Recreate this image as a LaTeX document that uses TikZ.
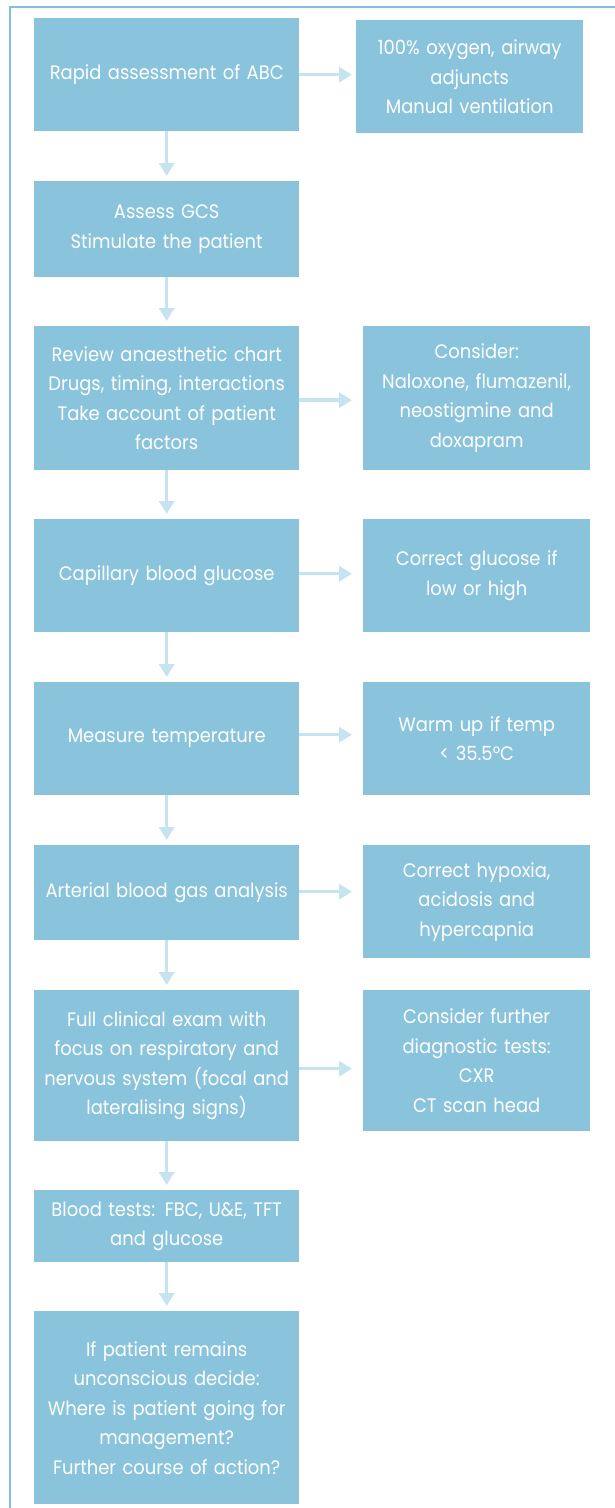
\documentclass[tikz,border=0pt]{standalone}
\usepackage{fontspec}
\setmainfont{Poppins}[FakeStretch=0.92]
\usetikzlibrary{arrows.meta}
\definecolor{boxc}{HTML}{8AC4DC}
\definecolor{arrc}{HTML}{C6E4F0}
\definecolor{framec}{HTML}{7DC1DC}
\tikzset{
  box/.style={fill=boxc, draw=none, anchor=north west, inner sep=0pt, align=center, text=white,
     font=\fontsize{19.5}{29.5}\selectfont},
  lbox/.style={box, minimum width=265pt, text width=262pt},
  rbox/.style={box, minimum width=227pt, text width=224pt},
  arr/.style={draw=arrc, line width=3.5pt, -{Triangle[width=15pt,length=13pt]}},
}
\begin{document}
\begin{tikzpicture}[x=1pt,y=-1pt]
\useasboundingbox (0,0) rectangle (614,1508);
\draw[framec, line width=1.5pt] (10,1510) -- (10,7) -- (616,7);
% left column
\node[lbox, minimum height=113pt] (l1) at (34,18) {Rapid assessment of ABC};
\node[lbox, minimum height=96pt] (l2) at (34,181) {Assess GCS\\Stimulate the patient};
\node[lbox, minimum height=144pt] (l3) at (34,326) {Review anaesthetic chart\\Drugs, timing, interactions\\Take account of patient\\factors};
\node[lbox, minimum height=113pt] (l4) at (34,519) {Capillary blood glucose};
\node[lbox, minimum height=113pt] (l5) at (34,682) {Measure temperature};
\node[lbox, minimum height=95pt] (l6) at (34,845) {Arterial blood gas analysis};
\node[lbox, minimum height=151pt] (l7) at (34,990) {Full clinical exam with\\focus on respiratory and\\nervous system (focal and\\lateralising signs)};
\node[lbox, minimum height=72pt] (l8) at (34,1190) {Blood tests: FBC, U\&E, TFT\\and glucose};
\node[lbox, minimum height=193pt] (l9) at (34,1311) {If patient remains\\unconscious decide:\\Where is patient going for\\management?\\Further course of action?};
% right column
\node[rbox, minimum height=113pt] (r1) at (356,20) {100\% oxygen, airway\\adjuncts\\Manual ventilation};
\node[rbox, minimum height=144pt] (r3) at (363,326) {Consider:\\Naloxone, flumazenil,\\neostigmine and\\doxapram};
\node[rbox, minimum height=113pt] (r4) at (363,519) {Correct glucose if\\low or high};
\node[rbox, minimum height=113pt] (r5) at (363,682) {Warm up if temp\\< 35.5°C};
\node[rbox, minimum height=113pt] (r6) at (363,845) {Correct hypoxia,\\acidosis and\\hypercapnia};
\node[rbox, minimum height=141pt] (r7) at (363,990) {Consider further\\diagnostic tests:\\CXR\\CT scan head};
% vertical arrows
\foreach \a/\b in {l1/l2,l2/l3,l3/l4,l4/l5,l5/l6,l6/l7,l7/l8,l8/l9}
  \draw[arr, shorten >=5pt] (\a.south) -- (\b.north);
% horizontal arrows
\draw[arr, shorten >=4pt] (l1.east) -- (l1.east -| r1.west);
\draw[arr, shorten >=11pt] ([yshift=-2pt]l3.east) -- ([yshift=-2pt]l3.east -| r3.west);
\draw[arr, shorten >=11pt] ([yshift=2pt]l4.east) -- ([yshift=2pt]l4.east -| r4.west);
\draw[arr, shorten >=11pt] ([yshift=4pt]l5.east) -- ([yshift=4pt]l5.east -| r5.west);
\draw[arr, shorten >=11pt] ([yshift=1pt]l6.east) -- ([yshift=1pt]l6.east -| r6.west);
\draw[arr, shorten >=11pt] ([yshift=-3pt]l7.east) -- ([yshift=-3pt]l7.east -| r7.west);
\end{tikzpicture}
\end{document}
